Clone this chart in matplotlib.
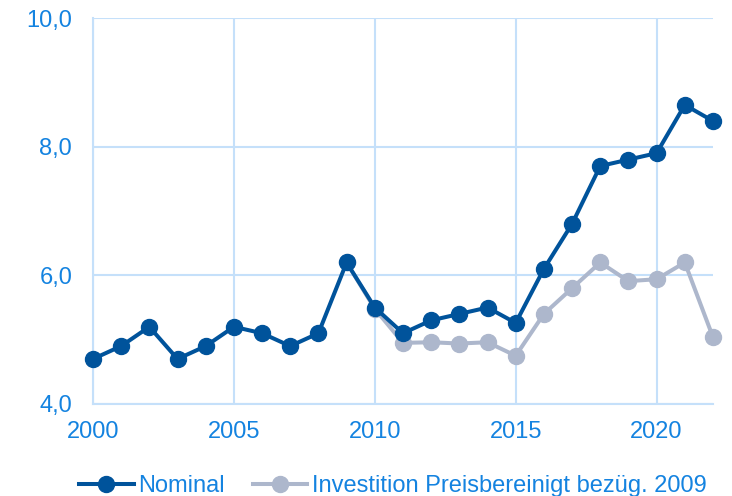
import matplotlib
matplotlib.use("Agg")
import matplotlib.pyplot as plt
from matplotlib.ticker import FuncFormatter

# data
years = list(range(2000, 2023))
nominal = [4.7, 4.9, 5.2, 4.7, 4.9, 5.2, 5.1, 4.9, 5.1, 6.2, 5.5, 5.1, 5.3,
           5.4, 5.5, 5.26, 6.1, 6.8, 7.7, 7.8, 7.9, 8.65, 8.4]
real_years = list(range(2009, 2023))
real = [6.2, 5.48, 4.95, 4.96, 4.94, 4.96, 4.75, 5.4, 5.8, 6.2, 5.91, 5.94, 6.2, 5.04]
labels = ["Nominal", "Investition Preisbereinigt bezüg. 2009"]

c_nom = "#00539b"
c_real = "#adb7cc"
c_text = "#1483e0"
c_grid = "#c5e0fa"

plt.rcParams["font.family"] = ["Liberation Sans", "DejaVu Sans"]

fig = plt.figure(figsize=(7.32, 4.96), dpi=100)
ax = fig.add_axes([0.127, 0.1855, 0.847, 0.778])

ax.plot(real_years, real, color=c_real, lw=2.9, marker="o", ms=11.5, label=labels[1],
        zorder=3, clip_on=False)
ax.plot(years, nominal, color=c_nom, lw=2.9, marker="o", ms=11.5, label=labels[0],
        zorder=4, clip_on=False)

ax.set_xlim(2000, 2022)
ax.set_ylim(4, 10)
ax.set_xticks([2000, 2005, 2010, 2015, 2020])
ax.set_yticks([4, 6, 8, 10])
ax.yaxis.set_major_formatter(FuncFormatter(lambda v, p: f"{v:.1f}".replace(".", ",")))

ax.grid(True, color=c_grid, lw=1.5)
ax.set_axisbelow(True)
for s in ["top", "right"]:
    ax.spines[s].set_visible(False)
for s in ["left", "bottom"]:
    ax.spines[s].set_color(c_grid)
    ax.spines[s].set_linewidth(1.5)
ax.tick_params(length=0, labelsize=17, labelcolor=c_text)
ax.tick_params(axis="y", pad=15)
ax.tick_params(axis="x", pad=12)

h, l = ax.get_legend_handles_labels()
fig.legend(h[::-1], l[::-1], loc="lower center", bbox_to_anchor=(0.537, -0.045), ncol=2,
           frameon=False, fontsize=17, labelcolor=c_text, handlelength=2.3,
           handletextpad=0.2, columnspacing=1.2)

fig.savefig("out.png", dpi=100)
